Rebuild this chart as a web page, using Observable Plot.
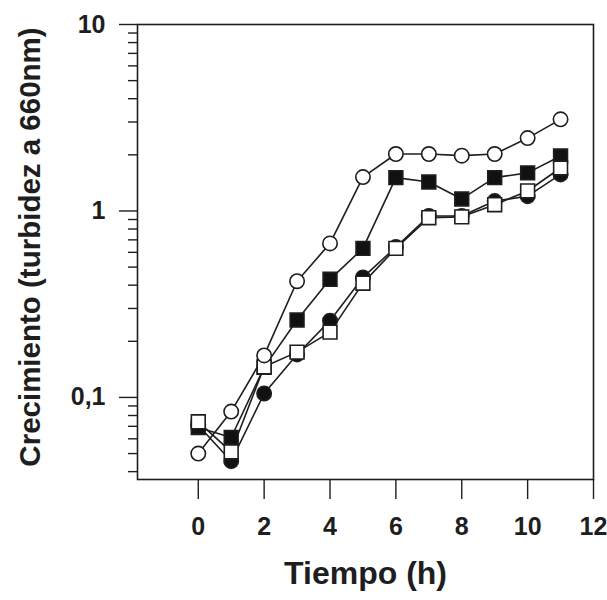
<!DOCTYPE html>
<html>
<head>
<meta charset="utf-8">
<script src="https://cdn.jsdelivr.net/npm/d3@7"></script>
<script src="https://cdn.jsdelivr.net/npm/@observablehq/plot@0.6"></script>
<style>
  html, body { margin: 0; padding: 0; background: #fff; }
</style>
</head>
<body>
<div id="chart"></div>
<script>
// Time (h)
const tiempo = [0, 1, 2, 3, 4, 5, 6, 7, 8, 9, 10, 11];
// Series (turbidity at 660 nm)
const circulosAbiertos   = [0.050, 0.084, 0.168, 0.42, 0.67, 1.52, 2.02, 2.02, 1.98, 2.02, 2.46, 3.10];
const cuadradosLlenos    = [0.069, 0.061, 0.145, 0.26, 0.43, 0.63, 1.51, 1.43, 1.16, 1.51, 1.60, 1.97];
const circulosLlenos     = [0.071, 0.0455, 0.105, 0.17, 0.258, 0.44, 0.64, 0.94, 0.94, 1.13, 1.20, 1.57];
const cuadradosAbiertos  = [0.074, 0.051, 0.146, 0.175, 0.224, 0.41, 0.63, 0.92, 0.93, 1.08, 1.28, 1.70];

// Axis ticks
const xTicks = [0, 2, 4, 6, 8, 10, 12];
const yMajorTicks = [0.1, 1, 10];
const yMajorLabels = ["0,1", "1", "10"];
const yMinorTicks = [0.04, 0.05, 0.06, 0.07, 0.08, 0.09,
                     0.2, 0.3, 0.4, 0.5, 0.6, 0.7, 0.8, 0.9,
                     2, 3, 4, 5, 6, 7, 8, 9];

const series = [
  {name: "circulosLlenos", values: circulosLlenos, symbol: "circle", fill: "#111"},
  {name: "cuadradosLlenos", values: cuadradosLlenos, symbol: "square", fill: "#111"},
  {name: "cuadradosAbiertos", values: cuadradosAbiertos, symbol: "square", fill: "#fff"},
  {name: "circulosAbiertos", values: circulosAbiertos, symbol: "circle", fill: "#fff"}
];
const rows = series.flatMap(s => s.values.map((v, i) => ({serie: s.name, t: tiempo[i], v, symbol: s.symbol, fill: s.fill})));

const ink = "#1e1e1e";
const font = "'Liberation Sans', Arial, Helvetica, sans-serif";

const marks = [
  Plot.frame({stroke: ink, strokeWidth: 1.6}),
  Plot.axisY(yMinorTicks, {tickSize: 9, tickFormat: () => "", stroke: ink, strokeWidth: 1.4}),
  Plot.axisY(yMajorTicks, {tickSize: 18, tickPadding: 14, tickFormat: d => yMajorLabels[yMajorTicks.indexOf(d)],
    stroke: ink, fill: ink, strokeWidth: 1.4, fontSize: 25, fontWeight: "bold"}),
  Plot.axisX(xTicks, {tickSize: 20, tickPadding: 18, tickFormat: d => String(d),
    stroke: ink, fill: ink, strokeWidth: 1.4, fontSize: 25, fontWeight: "bold"}),
  ...series.map(s => Plot.line(rows.filter(r => r.serie === s.name), {x: "t", y: "v", stroke: ink, strokeWidth: 1.6})),
  ...series.map(s => Plot.dot(rows.filter(r => r.serie === s.name), {
    x: "t", y: "v", symbol: () => s.symbol, r: s.symbol === "circle" ? 7.2 : 7.8,
    fill: s.fill, stroke: ink, strokeWidth: 1.6
  })),
  Plot.text(["Tiempo (h)"], {frameAnchor: "bottom", dy: 104, fontSize: 32, fontWeight: "bold", fill: ink}),
  Plot.text(["Crecimiento (turbidez a 660nm)"], {frameAnchor: "left", textAnchor: "middle", dx: -107, dy: -5, rotate: -90,
    fontSize: 29.5, fontWeight: "bold", fill: ink})
];

const chart = Plot.plot({
  width: 607,
  height: 600,
  marginLeft: 137,
  marginRight: 14,
  marginTop: 24,
  marginBottom: 121,
  style: {fontFamily: font, background: "#fff", color: ink},
  x: {domain: [-1.845, 12], label: null},
  y: {type: "log", domain: [0.0363, 10], label: null},
  symbol: {type: "identity"},
  marks
});
document.getElementById("chart").appendChild(chart);
</script>
</body>
</html>
